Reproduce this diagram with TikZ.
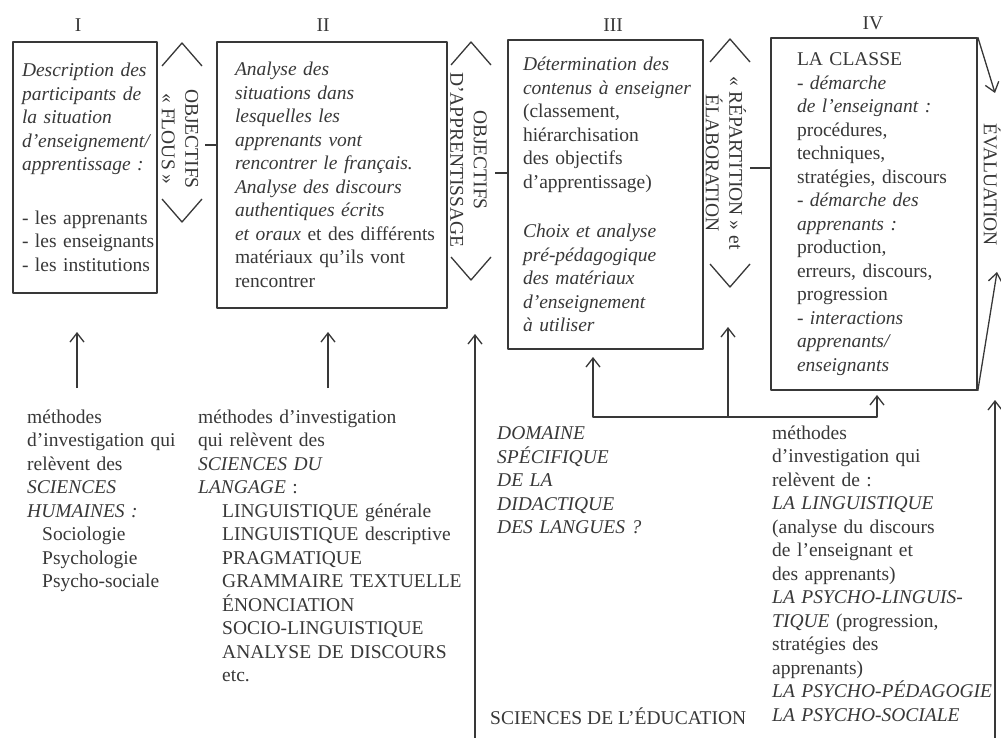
\documentclass[tikz,border=0pt]{standalone}
\usepackage{fontspec}
\setmainfont{Liberation Serif}
\usetikzlibrary{arrows.meta}
\definecolor{ink}{gray}{0.22}
\def\fs{\fontsize{19.5}{23.5}\selectfont}
% lines may run a little past the text width instead of breaking
\def\nobreaklines{\rightskip=0pt plus 1fil minus 40pt\linepenalty=3000\hyphenpenalty=10000}
% open chevrons above and below a rotated label
\def\chevrons#1#2#3{
  \draw[chev] (#1-20,#2+23) -- (#1,#2) -- (#1+20,#2+23);
  \draw[chev] (#1-20,#3-23) -- (#1,#3) -- (#1+20,#3-23);}
\begin{document}
\begin{tikzpicture}[x=1pt, y=-1pt, line join=round,
    box/.style={draw=ink, line width=1.6pt, align=left, inner ysep=0pt, font=\fs, text=ink,
      execute at begin node=\nobreaklines},
    txt/.style={align=left, anchor=base west, inner sep=0pt, font=\fs, text=ink,
      execute at begin node=\nobreaklines},
    lbl/.style={rotate=-90, align=center, inner sep=0pt, font=\fs, text=ink},
    arr/.style={draw=ink, line width=1.3pt, -{Straight Barb[length=9pt,width=14pt]}},
    chev/.style={draw=ink, line width=1.3pt},
    ]
\useasboundingbox[fill=white] (0,0) rectangle (1001,738);

% numbers of the four stages
\node[font=\fs, text=ink] (num1) at (78,25) {I};
\node[font=\fs, text=ink] (num2) at (323,25) {II};
\node[font=\fs, text=ink] (num3) at (613,25) {III};
\node[font=\fs, text=ink] (num4) at (873,23) {IV};

% the four stages
\node[box, minimum width=144pt, minimum height=251pt, inner xsep=9pt, text width=126pt] (descr) at (85,167.5)
  {\itshape Description des\\ participants de\\ la situation\\ d'enseignement/\\ apprentissage :\\[30pt]
   \upshape - les apprenants\\ - les enseignants\\ - les institutions};
\node[box, minimum width=230pt, minimum height=266pt, inner xsep=18pt, text width=194pt] (situ) at (332,175)
  {\itshape Analyse des\\ situations dans\\ lesquelles les\\ apprenants vont\\ rencontrer le français.\\
   Analyse des discours\\ authentiques écrits\\ et oraux \upshape et des différents\\ matériaux qu'ils vont\\ rencontrer};
\node[box, minimum width=195pt, minimum height=309pt, inner xsep=15pt, text width=165pt] (contenus) at (605.5,194.5)
  {\itshape Détermination des\\ contenus à enseigner\\ \upshape (classement,\\ hiérarchisation\\ des objectifs\\ d'apprentissage)\\[26pt]
   \itshape Choix et analyse\\ pré-pédagogique\\ des matériaux\\ d'enseignement\\ à utiliser};
\node[box, minimum width=206pt, minimum height=352pt, inner xsep=26pt, text width=154pt] (classe) at (874,214)
  {LA CLASSE\\ \itshape - démarche\\ de l'enseignant :\\ \upshape procédures,\\ techniques,\\ stratégies, discours\\
   \itshape - démarche des\\ apprenants :\\ \upshape production,\\ erreurs, discours,\\ progression\\
   \itshape - interactions\\ apprenants/\\ enseignants};

% objectives between the stages
\chevrons{182}{43}{222}
\chevrons{471}{42}{280}
\chevrons{730}{39}{287}
\node[lbl] (flous) at (180,139) {OBJECTIFS\\« FLOUS »};
\node[lbl] (apprent) at (468.5,160) {OBJECTIFS\\D'APPRENTISSAGE};
\node[lbl] (elabor) at (726,163) {« RÉPARTITION » et\\ÉLABORATION};
\node[lbl] (evalu) at (992,185) {ÉVALUATION};
\coordinate (tick1) at (205,145);
\coordinate (tick2) at (495,173);
\coordinate (tick3) at (750,168);
\draw[chev] (tick1) -- (tick1 -| situ.west);
\draw[chev] (tick2) -- (tick2 -| contenus.west);
\draw[chev] (tick3) -- (tick3 -| classe.west);

% evaluation
\coordinate (eval-in) at (995,93);
\coordinate (eval-up) at (997,272);
\draw[arr] (classe.north east) -- (eval-in);
\draw[arr] (classe.south east) -- (eval-up);

% disciplines below
\node[txt, text width=160pt] (hum) at (27,423)
  {méthodes\\ d'investigation qui\\ relèvent des\\ \itshape SCIENCES\\ HUMAINES :\\ \upshape
   \hspace*{15pt}Sociologie\\ \hspace*{15pt}Psychologie\\ \hspace*{15pt}Psycho-sociale};
\node[txt, text width=270pt] (langage) at (198,423)
  {méthodes d'investigation\\ qui relèvent des\\ \itshape SCIENCES DU\\ LANGAGE \upshape :\\
   \hspace*{24pt}LINGUISTIQUE générale\\ \hspace*{24pt}LINGUISTIQUE descriptive\\
   \hspace*{24pt}PRAGMATIQUE\\ \hspace*{24pt}GRAMMAIRE TEXTUELLE\\ \hspace*{24pt}ÉNONCIATION\\
   \hspace*{24pt}SOCIO-LINGUISTIQUE\\ \hspace*{24pt}ANALYSE DE DISCOURS\\ \hspace*{24pt}etc.};
\node[txt, text width=200pt] (domaine) at (497,439.5)
  {\itshape DOMAINE\\ SPÉCIFIQUE\\ DE LA\\ DIDACTIQUE\\ DES LANGUES ?};
\node[txt] (edu) at (490,724.5) {SCIENCES DE L'ÉDUCATION};
\node[txt, text width=220pt] (psycho) at (772,439)
  {méthodes\\ d'investigation qui\\ relèvent de :\\ \itshape LA LINGUISTIQUE\\ \upshape (analyse du discours\\
   de l'enseignant et\\ des apprenants)\\ \itshape LA PSYCHO-LINGUIS-\\ TIQUE \upshape (progression,\\
   stratégies des\\ apprenants)\\ \itshape LA PSYCHO-PÉDAGOGIE\\ LA PSYCHO-SOCIALE};

% arrows up to the stages
\coordinate (hum-foot) at (77,388);
\coordinate (hum-tip) at (77,332);
\coordinate (lang-foot) at (328,388);
\coordinate (lang-tip) at (328,332);
\coordinate (edu-foot) at (475,738);
\coordinate (edu-tip) at (475,334);
\coordinate (psy-foot) at (995,738);
\coordinate (psy-tip) at (995,400);
\draw[arr] (hum-foot) -- (hum-tip);
\draw[arr] (lang-foot) -- (lang-tip);
\draw[arr] (edu-foot) -- (edu-tip);
\draw[arr] (psy-foot) -- (psy-tip);
\coordinate (dom-III) at (593,357);
\coordinate (dom-mid) at (728,327);
\coordinate (dom-join) at (728,417);
\coordinate (dom-IV) at (877,395);
\draw[arr, {Straight Barb[length=9pt,width=14pt]}-{Straight Barb[length=9pt,width=14pt]}] (dom-III) |- (dom-join) -| (dom-IV);
\draw[arr] (dom-join) -- (dom-mid);
\end{tikzpicture}
\end{document}
